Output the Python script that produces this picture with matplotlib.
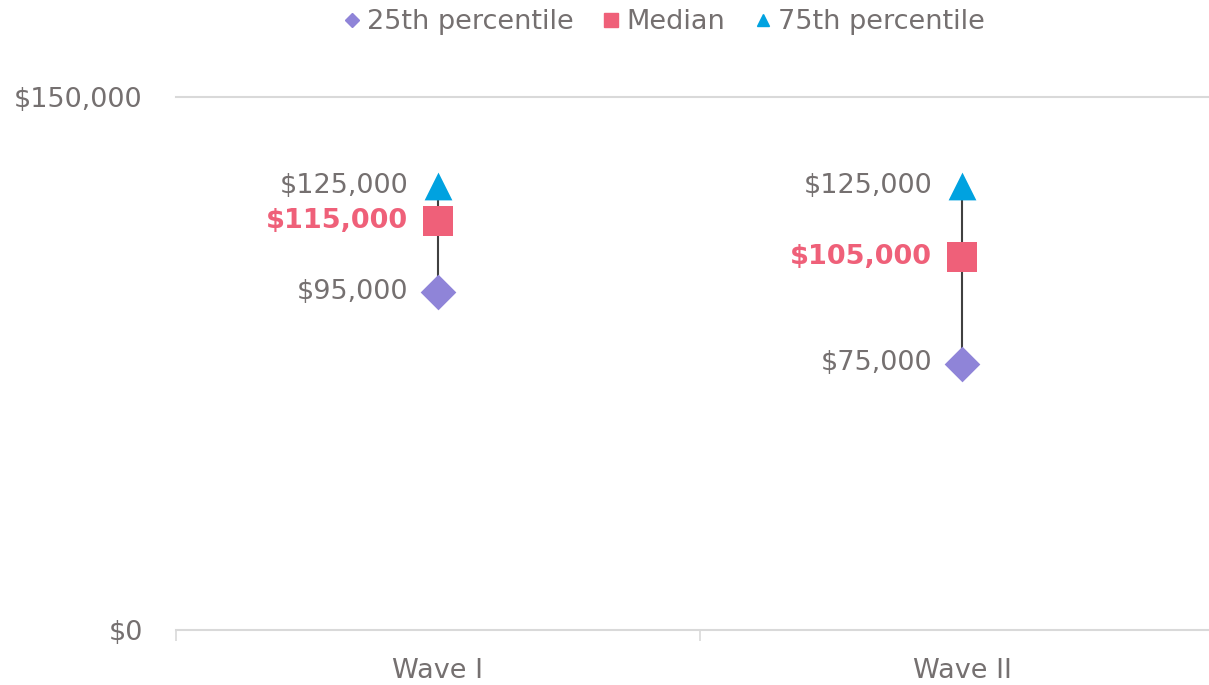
import matplotlib.pyplot as plt
from matplotlib.lines import Line2D

waves = ["Wave I", "Wave II"]
p25 = [95000, 75000]
median = [115000, 105000]
p75 = [125000, 125000]
y_ticks = [0, 150000]

GRIS = "#757070"
LILAS = "#8f84d8"
ROSA = "#ef6079"
AZUL = "#00a2e0"
TAM = 19.5

plt.rcParams['font.family'] = ['DejaVu Sans']

fig = plt.figure(figsize=(12.09, 6.85), dpi=100)
ax = fig.add_axes([176 / 1209, 55 / 685, 1048 / 1209, 533 / 685])

xs = [i + 0.5 for i in range(len(waves))]

# linha entre o percentil 25 e o 75
for x, lo, hi in zip(xs, p25, p75):
    ax.plot([x, x], [lo, hi], color="#404040", lw=1.5, zorder=1)

ax.scatter(xs, p25, marker="D", s=330, color=LILAS, zorder=3, linewidths=0)
ax.scatter(xs, median, marker="s", s=460, color=ROSA, zorder=3, linewidths=0)
ax.scatter(xs, p75, marker="^", s=400, color=AZUL, zorder=3, linewidths=0)

for x, a, m, b in zip(xs, p25, median, p75):
    ax.annotate(f"${a:,}", (x, a), xytext=(-30, 0), textcoords="offset pixels",
                ha="right", va="center", fontsize=TAM, color=GRIS)
    ax.annotate(f"${m:,}", (x, m), xytext=(-30, 0), textcoords="offset pixels",
                ha="right", va="center", fontsize=TAM, color=ROSA, fontweight="bold")
    ax.annotate(f"${b:,}", (x, b), xytext=(-30, 0), textcoords="offset pixels",
                ha="right", va="center", fontsize=TAM, color=GRIS)

ax.set_xlim(0, len(waves))
ax.set_ylim(0, 150000)
ax.set_yticks(y_ticks)
ax.set_yticklabels([f"${v:,}" for v in y_ticks])
ax.tick_params(axis="y", length=0, pad=24, labelsize=TAM, labelcolor=GRIS)

ax.set_xticks(range(len(waves) + 1))
ax.set_xticklabels([])
ax.set_xticks(xs, minor=True)
ax.set_xticklabels(waves, minor=True)
ax.tick_params(axis="x", which="major", length=8, color="#d9d9d9", width=1.2)
ax.tick_params(axis="x", which="minor", length=0, pad=20, labelsize=TAM, labelcolor=GRIS)

ax.axhline(150000, color="#d9d9d9", lw=1.5, zorder=0, clip_on=False)
for lado in ["top", "right", "left"]:
    ax.spines[lado].set_visible(False)
ax.spines["bottom"].set_color("#d9d9d9")
ax.spines["bottom"].set_linewidth(1.5)

handles = [
    Line2D([], [], marker="D", color=LILAS, ls="none", markersize=7),
    Line2D([], [], marker="s", color=ROSA, ls="none", markersize=10),
    Line2D([], [], marker="^", color=AZUL, ls="none", markersize=8),
]
fig.legend(handles, ["25th percentile", "Median", "75th percentile"],
           loc="center", bbox_to_anchor=(0.547, 1 - 22 / 685), ncol=3, frameon=False,
           fontsize=TAM, labelcolor=GRIS, handletextpad=0.05, columnspacing=0.9,
           handlelength=1.0)

fig.savefig("out.png", dpi=100)
